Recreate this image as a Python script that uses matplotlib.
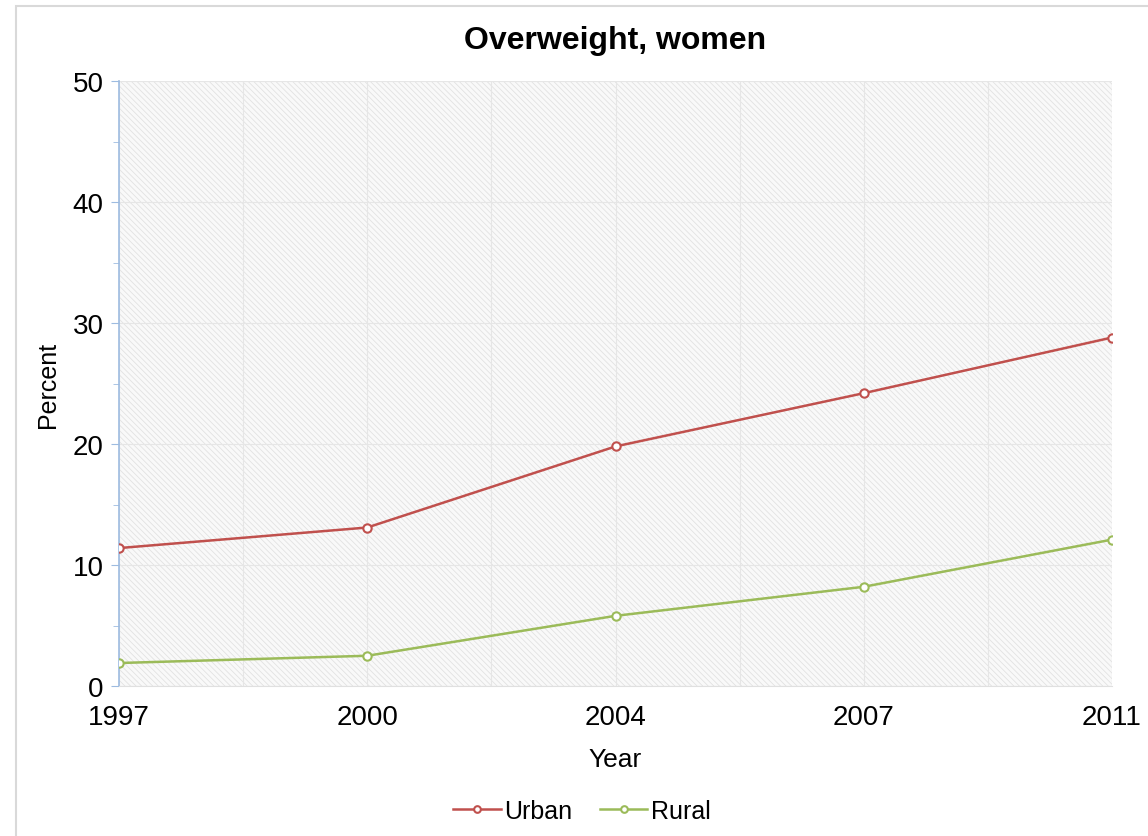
import matplotlib.pyplot as plt
from matplotlib.patches import Rectangle, FancyBboxPatch
from matplotlib.ticker import MultipleLocator

plt.rcParams['font.family'] = ['Liberation Sans', 'DejaVu Sans']

years = ['1997', '2000', '2004', '2007', '2011']
urban = [11.4, 13.1, 19.8, 24.2, 28.8]
rural = [1.9, 2.5, 5.8, 8.2, 12.1]

fig = plt.figure(figsize=(11.48, 8.37), dpi=100)
# outer frame of the chart area
fig.patches.append(FancyBboxPatch((0.014, -0.02), 1.2, 1.012, boxstyle='square,pad=0',
                                  transform=fig.transFigure, fill=False,
                                  edgecolor='#d9d9d9', linewidth=1.5))

ax = fig.add_axes([0.1037, 0.1792, 0.8649, 0.7228])
x = list(range(len(years)))

# hatched plot background
ax.set_facecolor('#f9f9f9')
plt.rcParams['hatch.linewidth'] = 0.6
ax.add_patch(Rectangle((0, 0), 1, 1, transform=ax.transAxes, facecolor='none',
                       edgecolor='#e2e2e2', hatch='\\\\\\\\\\\\', linewidth=0, zorder=0))

ax.plot(x, urban, color='#c0504d', linewidth=1.8, marker='o', markersize=6,
        markerfacecolor='white', markeredgewidth=1.5, label='Urban', zorder=3)
ax.plot(x, rural, color='#9bbb59', linewidth=1.8, marker='o', markersize=6,
        markerfacecolor='white', markeredgewidth=1.5, label='Rural', zorder=3)

ax.set_xlim(0, len(years) - 1)
ax.set_ylim(0, 50)
ax.set_xticks(x)
ax.set_xticklabels(years)
ax.set_xticks([i + 0.5 for i in x[:-1]], minor=True)
ax.yaxis.set_major_locator(MultipleLocator(10))
ax.yaxis.set_minor_locator(MultipleLocator(5))

ax.grid(which='major', axis='both', color='#e6e6e6', linewidth=0.8)
ax.grid(which='minor', axis='x', color='#e6e6e6', linewidth=0.8)
ax.set_axisbelow(True)

for s in ['top', 'right']:
    ax.spines[s].set_visible(False)
ax.spines['left'].set_color('#9dbbe0')
ax.spines['left'].set_linewidth(1.2)
ax.spines['bottom'].set_color('#e0e0e0')

ax.tick_params(axis='y', which='both', color='#9dbbe0', length=6, labelsize=20, pad=5)
ax.tick_params(axis='y', which='minor', length=4)
ax.tick_params(axis='x', which='both', length=0, labelsize=20, pad=13)

ax.set_title('Overweight, women', fontsize=23, fontweight='bold', pad=24)
ax.set_xlabel('Year', fontsize=19, labelpad=12)
ax.set_ylabel('Percent', fontsize=18, labelpad=9)

fig.legend(loc='center', bbox_to_anchor=(0.507, 0.03), ncol=2, frameon=False,
           fontsize=18, handlelength=1.9, handletextpad=0.15, columnspacing=1.1,
           markerscale=0.8)

fig.savefig('out.png', dpi=100)
